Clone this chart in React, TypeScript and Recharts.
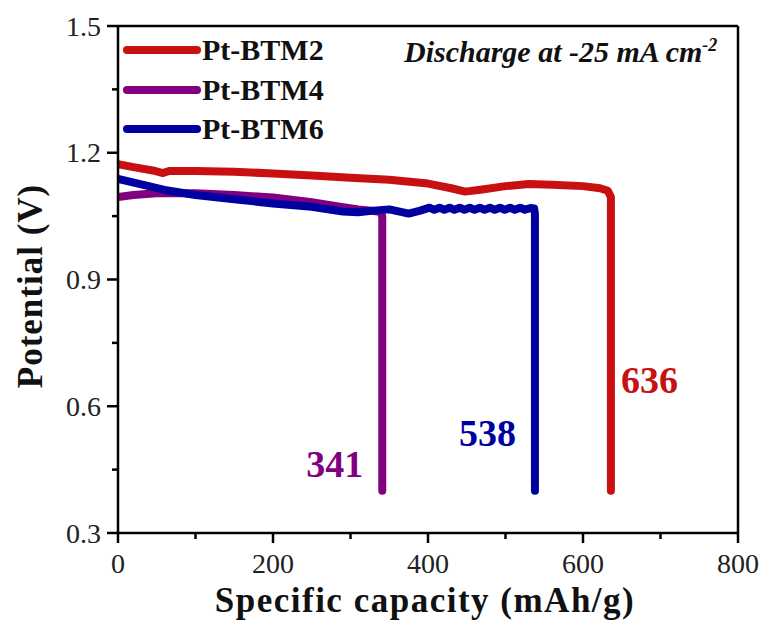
import React from 'react';
import { LineChart, Line, XAxis, YAxis, ReferenceDot } from 'recharts';

const seriesNames = ['Pt-BTM2', 'Pt-BTM4', 'Pt-BTM6'];
const seriesColors = ['#C81010', '#800080', '#0000A0'];

const btm2Cap = [0, 20, 45, 58, 66, 100, 150, 200, 250, 300, 350, 400, 430, 448, 470, 500, 530, 560, 600, 622, 632, 636, 636];
const btm2V = [1.173, 1.166, 1.158, 1.152, 1.157, 1.157, 1.155, 1.151, 1.146, 1.141, 1.136, 1.127, 1.116, 1.108, 1.113, 1.121, 1.126, 1.124, 1.121, 1.116, 1.11, 1.095, 0.4];

const btm4Cap = [0, 20, 50, 100, 150, 200, 250, 280, 310, 330, 338, 341, 341];
const btm4V = [1.095, 1.1, 1.104, 1.104, 1.1, 1.094, 1.083, 1.074, 1.066, 1.062, 1.06, 1.05, 0.4];

const btm6Cap = [0, 30, 60, 100, 150, 200, 250, 290, 310, 330, 350, 365, 375, 390,
  402, 408, 415, 421, 428, 434, 441, 447, 454, 460, 467, 473, 480, 486, 493, 499, 506, 512, 519, 525, 532, 537, 538, 538];
const btm6V = [1.138, 1.125, 1.112, 1.1, 1.09, 1.08, 1.072, 1.061, 1.059, 1.063, 1.066, 1.06, 1.056, 1.063,
  1.07, 1.065, 1.07, 1.065, 1.07, 1.065, 1.07, 1.065, 1.07, 1.065, 1.07, 1.065, 1.07, 1.065, 1.07, 1.065, 1.07, 1.065, 1.07, 1.065, 1.069, 1.068, 1.055, 0.4];

const annotCap = [636, 538, 341];
const annotV = [0.631, 0.506, 0.433];
const annotText = ['636', '538', '341'];
const annotColorIdx = [0, 2, 1];

const xTicks = [0, 100, 200, 300, 400, 500, 600, 700, 800];
const yTicks = [0.3, 0.45, 0.6, 0.75, 0.9, 1.05, 1.2, 1.35, 1.5];

const toData = (caps: number[], vs: number[]) => caps.map((c, i) => ({ x: c, v: vs[i] }));
const seriesData = [toData(btm2Cap, btm2V), toData(btm4Cap, btm4V), toData(btm6Cap, btm6V)];

const FONT = '"Liberation Serif", "Times New Roman", serif';

const LeftTick = (props: any) => {
  const { x, y, payload } = props;
  const major = Math.round(payload.value * 100) % 30 === 0;
  return (
    <g>
      <line x1={x} x2={x - (major ? 11 : 6)} y1={y} y2={y} stroke="#000" strokeWidth={2.5} />
      {major && (
        <text x={x - 17} y={y} dy="0.34em" textAnchor="end" fontFamily={FONT} fontSize={28} fill="#222">
          {payload.value.toFixed(1)}
        </text>
      )}
    </g>
  );
};

const RightTick = (props: any) => {
  const { x, y, payload } = props;
  const major = Math.round(payload.value * 100) % 30 === 0;
  return <line x1={x} x2={x - (major ? 7 : 5)} y1={y} y2={y} stroke="#000" strokeWidth={2} />;
};

const BottomTick = (props: any) => {
  const { x, y, payload } = props;
  const major = payload.value % 200 === 0;
  return (
    <g>
      <line x1={x} x2={x} y1={y} y2={y + (major ? 10 : 6)} stroke="#000" strokeWidth={2.5} />
      {major && (
        <text x={x} y={y + 40} textAnchor="middle" fontFamily={FONT} fontSize={28} fill="#222">
          {payload.value}
        </text>
      )}
    </g>
  );
};

const makeAnnot = (k: number) => (p: any) => {
  const right = k === 0;
  return (
    <text
      x={right ? p.cx + 10 : p.cx - 19}
      y={p.cy}
      textAnchor={right ? 'start' : 'end'}
      fontFamily={FONT}
      fontWeight="bold"
      fontSize={38}
      fill={seriesColors[annotColorIdx[k]]}
    >
      {annotText[k]}
    </text>
  );
};

const axisLineStyle = { stroke: '#000', strokeWidth: 2.5 };
const legendY = [50, 90, 129];

export default function App() {
  return (
    <div style={{ position: 'absolute', left: 0, top: 0, width: 763, height: 624, background: '#fff' }}>
      <LineChart width={763} height={624} margin={{ top: 25, right: 24, bottom: 90, left: 117 }}>
        <XAxis
          xAxisId="b"
          type="number"
          dataKey="x"
          domain={[0, 800]}
          ticks={xTicks}
          height={1}
          tickSize={0}
          tickMargin={0}
          tickLine={false}
          tick={<BottomTick />}
          axisLine={axisLineStyle}
          allowDataOverflow
        />
        <XAxis
          xAxisId="t"
          orientation="top"
          type="number"
          dataKey="x"
          domain={[0, 800]}
          ticks={xTicks}
          height={1}
          tick={false}
          tickLine={false}
          axisLine={axisLineStyle}
        />
        <YAxis
          yAxisId="l"
          type="number"
          domain={[0.3, 1.5]}
          ticks={yTicks}
          width={1}
          tickSize={0}
          tickMargin={0}
          tickLine={false}
          tick={<LeftTick />}
          axisLine={axisLineStyle}
          allowDataOverflow
        />
        <YAxis
          yAxisId="r"
          orientation="right"
          type="number"
          domain={[0.3, 1.5]}
          ticks={yTicks}
          width={1}
          tickSize={0}
          tickMargin={0}
          tickLine={false}
          tick={<RightTick />}
          axisLine={axisLineStyle}
        />
        {[0, 1, 2].map((i) => (
          <Line
            key={seriesNames[i]}
            xAxisId="b"
            yAxisId="l"
            data={seriesData[i]}
            dataKey="v"
            name={seriesNames[i]}
            stroke={seriesColors[i]}
            strokeWidth={8}
            strokeLinecap="round"
            strokeLinejoin="round"
            dot={false}
            type="linear"
            isAnimationActive={false}
          />
        ))}
        {annotCap.map((c, k) => (
          <ReferenceDot
            key={'a' + k}
            xAxisId="b"
            yAxisId="l"
            x={c}
            y={annotV[k]}
            r={0}
            shape={makeAnnot(k)}
          />
        ))}
      </LineChart>
      <svg width={763} height={624} style={{ position: 'absolute', left: 0, top: 0, pointerEvents: 'none' }}>
        {seriesNames.map((n, i) => (
          <g key={n}>
            <line x1={127} x2={197} y1={legendY[i]} y2={legendY[i]} stroke={seriesColors[i]} strokeWidth={8} strokeLinecap="round" />
            <text x={202} y={legendY[i] + 10} fontFamily={FONT} fontWeight="bold" fontSize={30} fill="#111">{n}</text>
          </g>
        ))}
        <text x={404} y={62} fontFamily={FONT} fontWeight="bold" fontStyle="italic" fontSize={30} fill="#111">
          Discharge at -25 mA cm<tspan dy={-11} fontSize={18}>-2</tspan>
        </text>
        <text
          transform="translate(42 286) rotate(-90)"
          textAnchor="middle"
          fontFamily={FONT}
          fontWeight="bold"
          fontSize={35}
          letterSpacing={1}
          fill="#111"
        >
          Potential (V)
        </text>
        <text x={425} y={612} textAnchor="middle" fontFamily={FONT} fontWeight="bold" fontSize={35} letterSpacing={1.5} fill="#111">
          Specific capacity (mAh/g)
        </text>
      </svg>
    </div>
  );
}
